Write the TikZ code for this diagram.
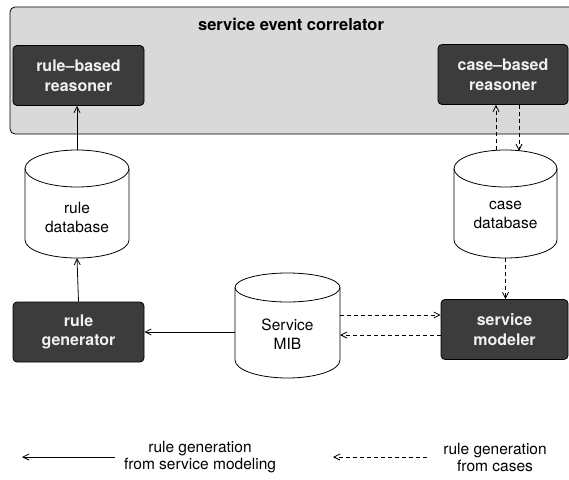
\documentclass[tikz,border=0pt]{standalone}
\usepackage{fontspec}
\setmainfont{TeX Gyre Heros}
\usetikzlibrary{arrows.meta,calc}
\definecolor{boxdark}{HTML}{3C3C3C}
\definecolor{corrbg}{HTML}{D9D9D9}
\definecolor{boxtext}{HTML}{F0F0F0}
\newcommand\dbcylinder[7]{%
  % #1 L, #2 R, #3 rx, #4 ellipse centre y, #5 ry, #6 side bottom y, #7 bulge
  \filldraw[line width=0.8pt, fill=white] (#1,#4) -- (#1,#6)
    arc[start angle=180, end angle=360, x radius=#3pt, y radius=#7pt]
    -- (#2,#4)
    arc[start angle=0, end angle=180, x radius=#3pt, y radius=#5pt] -- cycle;
  \draw[line width=0.8pt] (#1,#4) arc[start angle=180, end angle=360, x radius=#3pt, y radius=#5pt];
}
\tikzset{
  procbox/.style={draw=black, fill=boxdark, rounded corners=4pt, text=boxtext,
    font=\fontsize{16}{19.5}\selectfont\bfseries, align=center,
    minimum height=60pt, inner sep=0pt, line width=0.8pt},
  lbl/.style={font=\fontsize{15.5}{19}\selectfont, align=center, inner sep=0pt},
  leglbl/.style={font=\fontsize{15.5}{17}\selectfont, align=center, inner sep=0pt},
  area/.style={inner sep=0pt, outer sep=0pt},
  conn/.style={line width=0.8pt, -{Straight Barb[length=6pt,width=6pt]}},
  dconn/.style={conn, dash pattern=on 4pt off 3pt}
}
\begin{document}
\begin{tikzpicture}[x=1pt,y=-1pt]
\useasboundingbox (0,0) rectangle (569,479);
\clip (0,0) rectangle (569,479);

% service event correlator
\node[draw=black, fill=corrbg, rounded corners=5pt, line width=0.8pt,
      minimum width=590pt, minimum height=127pt, inner sep=0pt] (corr) at (305,70.5) {};
\node[anchor=base, font=\fontsize{16.5}{20}\selectfont\bfseries, inner sep=0pt] (corrtitle) at (291,30) {service event correlator};

\node[procbox, minimum width=131pt] (rbr) at (78.5,75.5) {rule–based\\reasoner};
\node[procbox, minimum width=130pt] (cbr) at (503,74.5) {case–based\\reasoner};
\node[procbox, minimum width=131pt] (rgen) at (78.5,332) {rule\\generator};
\node[procbox, minimum width=127pt] (smod) at (504.5,329.5) {service\\modeler};

% databases
\dbcylinder{25}{129}{52}{168.5}{18.5}{240}{18}
\node[area, minimum width=104pt, minimum height=108pt] (ruledb) at (77,204) {};
\node[lbl] (ruledbtxt) at (77,217) {rule\\database};

\dbcylinder{454}{557}{51.5}{168.5}{18.5}{240}{18}
\node[area, minimum width=103pt, minimum height=108pt] (casedb) at (505.5,204) {};
\node[lbl] (casedbtxt) at (505.5,215) {case\\database};

\dbcylinder{235}{340}{52.5}{287.5}{14.5}{360}{18}
\node[area, minimum width=105pt, minimum height=105pt] (mib) at (287.5,325.5) {};
\node[lbl] (mibtxt) at (287.5,334) {Service\\MIB};

% connectors
\draw[conn] (ruledb.north) -- (ruledb.north |- rbr.south);
\draw[conn] (rgen.north) -- (ruledb.south);
\draw[conn] (mib.west |- rgen.east) -- (rgen.east);
\draw[dconn] ($(casedb.north)+(-9.5,0)$) -- ($(cbr.south)+(-7,0)$);
\draw[dconn] ($(cbr.south)+(16,0)$) -- ($(casedb.north)+(13.5,1)$);
\draw[dconn] (casedb.south) -- (casedb.south |- smod.north);
\draw[dconn] ($(mib.east)+(0,-10.5)$) -- ($(smod.west)+(0,-14.5)$);
\draw[dconn] ($(smod.west)+(0,5.5)$) -- ($(mib.east)+(0,9.5)$);

% legend
\coordinate (l1a) at (115,457);
\coordinate (l1b) at (22,457);
\draw[conn] (l1a) -- (l1b);
\node[leglbl] (l1txt) at (200,457) {rule generation\\from service modeling};
\coordinate (l2a) at (427,457);
\coordinate (l2b) at (333,457);
\draw[dconn] (l2a) -- (l2b);
\node[leglbl] (l2txt) at (495,457) {rule generation\\from cases};
\end{tikzpicture}
\end{document}
